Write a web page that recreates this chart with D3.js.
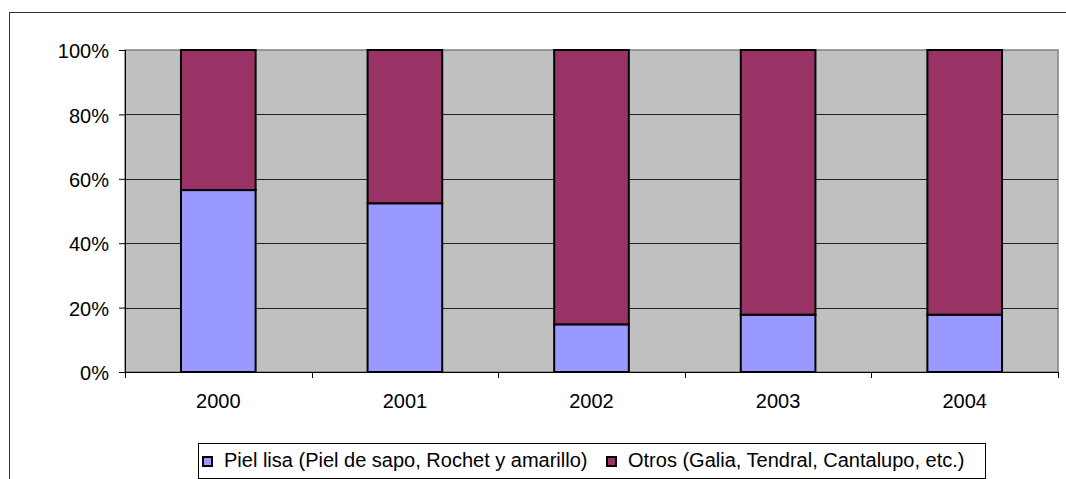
<!DOCTYPE html>
<html>
<head>
<meta charset="utf-8">
<script src="https://cdn.jsdelivr.net/npm/d3@7"></script>
<style>
  html, body { margin: 0; padding: 0; background: #fff; }
  svg { display: block; font-family: "Liberation Sans", Arial, sans-serif; }
</style>
</head>
<body>
<svg id="chart" width="1066" height="479"></svg>
<script>
// Melon varieties, share of total per year
const years = ["2000", "2001", "2002", "2003", "2004"];
const pielLisa = [56.5, 52.4, 14.8, 17.8, 17.8];
const otros = [43.5, 47.6, 85.2, 82.2, 82.2];
const seriesNames = [
  "Piel lisa (Piel de sapo, Rochet y amarillo)",
  "Otros (Galia, Tendral, Cantalupo, etc.)"
];
const seriesColors = ["#9999FF", "#993366"];
const yTicks = [0, 20, 40, 60, 80, 100];

const svg = d3.select("#chart");
const fontSize = 20;

// outer chart frame
svg.append("rect")
  .attr("x", 9.5).attr("y", 12.5)
  .attr("width", 1070).attr("height", 480)
  .attr("fill", "#fff").attr("stroke", "#333").attr("stroke-width", 1);

const plotLeft = 125, plotRight = 1058, plotTop = 50, plotBottom = 372;

const x = d3.scaleBand().domain(years).range([plotLeft, plotRight]).paddingInner(0.6).paddingOuter(0.3);
const xBand = d3.scaleBand().domain(years).range([plotLeft, plotRight]);
const y = d3.scaleLinear().domain([0, 100]).range([plotBottom, plotTop]);

// plot background
svg.append("rect")
  .attr("x", plotLeft).attr("y", plotTop)
  .attr("width", plotRight - plotLeft).attr("height", plotBottom - plotTop)
  .attr("fill", "#C0C0C0").attr("stroke", "#808080").attr("stroke-width", 1.5);

// horizontal gridlines
svg.append("g")
  .selectAll("line")
  .data(yTicks.filter(t => t > 0 && t < 100))
  .join("line")
  .attr("x1", plotLeft).attr("x2", plotRight)
  .attr("y1", d => Math.round(y(d)) + 0.5).attr("y2", d => Math.round(y(d)) + 0.5)
  .attr("stroke", "#222").attr("stroke-width", 1);

// stacked bars
const stackData = years.map((yr, i) => ({ year: yr, a: pielLisa[i], b: otros[i] }));
const stack = d3.stack().keys(["a", "b"])(stackData);

svg.append("g")
  .selectAll("g")
  .data(stack)
  .join("g")
  .attr("fill", (d, i) => seriesColors[i])
  .selectAll("rect")
  .data(d => d)
  .join("rect")
  .attr("x", d => x(d.data.year))
  .attr("width", x.bandwidth())
  .attr("y", d => y(d[1]))
  .attr("height", d => y(d[0]) - y(d[1]))
  .attr("stroke", "#000").attr("stroke-width", 2);

// y axis
const yAxis = d3.axisLeft(y).tickValues(yTicks).tickFormat(d => d + "%").tickSize(6).tickPadding(10);
const gy = svg.append("g").attr("transform", `translate(${plotLeft},0)`).call(yAxis);
gy.attr("font-family", null).attr("font-size", null);
gy.selectAll("text").attr("font-size", fontSize).attr("fill", "#000").attr("dy", "0.38em");
gy.selectAll("line").attr("stroke", "#000");
gy.select(".domain").attr("stroke", "#000");

// x axis: ticks at category boundaries
const gx = svg.append("g").attr("transform", `translate(0,${plotBottom})`);
gx.append("line").attr("x1", plotLeft).attr("x2", plotRight).attr("y1", 0.5).attr("y2", 0.5).attr("stroke", "#000");
const bounds = years.map(d => xBand(d)).concat([plotRight]);
gx.selectAll("line.tick")
  .data(bounds)
  .join("line")
  .attr("class", "tick")
  .attr("x1", d => Math.round(d) + 0.5).attr("x2", d => Math.round(d) + 0.5)
  .attr("y1", 0).attr("y2", 6)
  .attr("stroke", "#000");
gx.selectAll("text")
  .data(years)
  .join("text")
  .attr("x", d => xBand(d) + xBand.bandwidth() / 2)
  .attr("y", 36)
  .attr("text-anchor", "middle")
  .attr("font-size", fontSize)
  .text(d => d);

// legend
const legend = svg.append("g");
legend.append("rect")
  .attr("x", 198.5).attr("y", 443.5)
  .attr("width", 787).attr("height", 35)
  .attr("fill", "#fff").attr("stroke", "#000").attr("stroke-width", 1);
const itemX = [203, 607];
seriesNames.forEach((name, i) => {
  legend.append("rect")
    .attr("x", itemX[i]).attr("y", 457)
    .attr("width", 9).attr("height", 9)
    .attr("fill", seriesColors[i]).attr("stroke", "#000").attr("stroke-width", 2);
  legend.append("text")
    .attr("x", itemX[i] + 21).attr("y", 467)
    .attr("font-size", fontSize)
    .text(name);
});
</script>
</body>
</html>
